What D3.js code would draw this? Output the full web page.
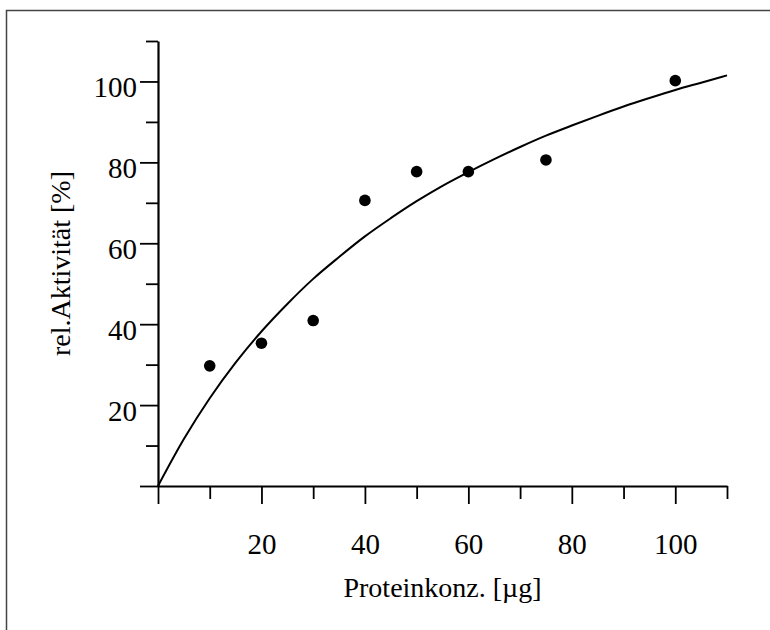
<!DOCTYPE html>
<html>
<head>
<meta charset="utf-8">
<script src="https://cdn.jsdelivr.net/npm/d3@7"></script>
<style>
  body { margin: 0; background: #fff; }
  svg text { font-family: "Liberation Serif", "Times New Roman", serif; fill: #000; }
</style>
</head>
<body>
<div id="chart"></div>
<script>
// Measured points
const conc = [10, 20, 30, 40, 50, 60, 75, 100];
const activity = [29.7, 35.3, 40.9, 70.6, 77.7, 77.7, 80.6, 100.2];

// Fitted curve
const curveX = [0, 5, 10, 15, 20, 25, 30, 35, 40, 45, 50, 55, 60, 65, 70, 75, 80, 85, 90, 95, 100, 105, 110];
const curveY = [0, 11.6, 21.7, 30.5, 38.2, 45, 51.2, 56.6, 61.7, 66.2, 70.4, 74.2, 77.6, 80.8, 83.8, 86.6, 89.1, 91.5, 93.8, 95.9, 97.9, 99.7, 101.5];

const majorTicks = [0, 20, 40, 60, 80, 100];
const minorTicks = [10, 30, 50, 70, 90, 110];

const width = 770, height = 630;
const svg = d3.select("#chart").append("svg")
    .attr("width", width)
    .attr("height", height);

// frame (only top and left visible)
svg.append("path")
    .attr("d", "M6.5,630V10.5H770")
    .attr("fill", "none")
    .attr("stroke", "#444")
    .attr("stroke-width", 1.5);

const x = d3.scaleLinear().domain([0, 110]).range([158, 727]);
const y = d3.scaleLinear().domain([0, 110]).range([486, 41]);

// minor ticks
svg.append("g")
    .attr("transform", "translate(0,486)")
    .call(d3.axisBottom(x).tickValues(minorTicks).tickSize(13).tickSizeOuter(0).tickFormat(""))
    .call(g => g.select(".domain").remove());
svg.append("g")
    .attr("transform", "translate(158,0)")
    .call(d3.axisLeft(y).tickValues(minorTicks).tickSize(12).tickSizeOuter(0).tickFormat(""))
    .call(g => g.select(".domain").remove());

// major ticks + labels
const xAxis = svg.append("g")
    .attr("transform", "translate(0,486)")
    .call(d3.axisBottom(x).tickValues(majorTicks).tickSize(18).tickSizeOuter(0).tickPadding(29)
        .tickFormat(d => d === 0 ? "" : d));
const yAxis = svg.append("g")
    .attr("transform", "translate(158,0)")
    .call(d3.axisLeft(y).tickValues(majorTicks).tickSize(18).tickSizeOuter(0).tickPadding(3)
        .tickFormat(d => d === 0 ? "" : d));

yAxis.selectAll(".tick text").attr("dy", "0.52em");

svg.selectAll(".domain").attr("stroke", "#000").attr("stroke-width", 2.2);
svg.selectAll(".tick line").attr("stroke", "#000").attr("stroke-width", 1.8);
svg.selectAll(".tick text")
    .attr("font-size", 29)
    .attr("font-family", "Liberation Serif, Times New Roman, serif")
    .attr("fill", "#000");

// fitted curve
const line = d3.line()
    .x(i => x(curveX[i]))
    .y(i => y(curveY[i]))
    .curve(d3.curveMonotoneX);

svg.append("path")
    .datum(d3.range(curveX.length))
    .attr("fill", "none")
    .attr("stroke", "#000")
    .attr("stroke-width", 2)
    .attr("d", line);

// data points
svg.selectAll(".dot")
    .data(conc)
    .enter()
    .append("circle")
    .attr("cx", d => x(d))
    .attr("cy", (d, i) => y(activity[i]))
    .attr("r", 5.8)
    .attr("fill", "#000");

// axis titles
svg.append("text")
    .attr("x", (158 + 727) / 2)
    .attr("y", 597)
    .attr("text-anchor", "middle")
    .attr("font-size", 28)
    .text("Proteinkonz. [µg]");

svg.append("text")
    .attr("transform", "translate(70,263.5) rotate(-90)")
    .attr("text-anchor", "middle")
    .attr("font-size", 28)
    .text("rel.Aktivität [%]");
</script>
</body>
</html>
